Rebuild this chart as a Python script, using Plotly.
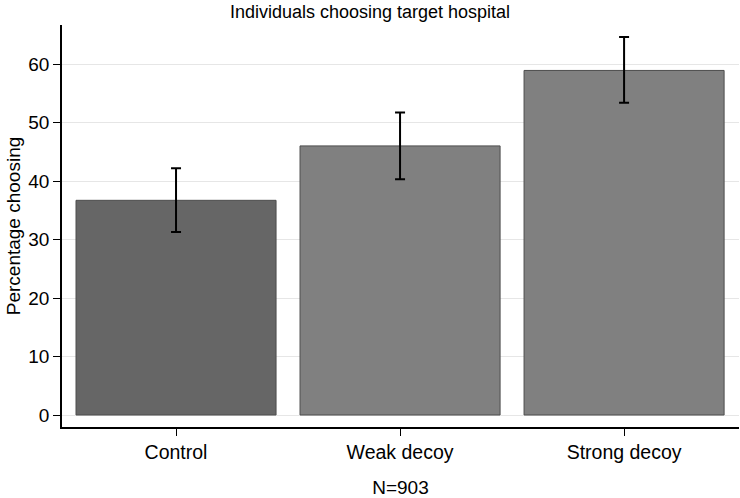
import plotly.graph_objects as go

categories = ["Control", "Weak decoy", "Strong decoy"]
pct_choosing = [36.7, 46.0, 58.9]
ci_upper = [42.2, 51.7, 64.6]
ci_lower = [31.3, 40.3, 53.4]
bar_colors = ["#666666", "#808080", "#808080"]
y_ticks = [0, 10, 20, 30, 40, 50, 60]

err_plus = [u - v for u, v in zip(ci_upper, pct_choosing)]
err_minus = [v - l for v, l in zip(pct_choosing, ci_lower)]

FONT = "Liberation Sans, Arial, sans-serif"

fig = go.Figure()
fig.add_trace(go.Bar(
    x=categories,
    y=pct_choosing,
    width=0.893,
    marker=dict(color=bar_colors, line=dict(color="#4d4d4d", width=1)),
    error_y=dict(type="data", array=err_plus, arrayminus=err_minus,
                 color="black", thickness=2, width=5, visible=True),
    showlegend=False,
))

fig.update_layout(
    width=740, height=498,
    margin=dict(l=62, r=1, t=25, b=71),
    paper_bgcolor="white", plot_bgcolor="white",
    font=dict(family=FONT, size=19, color="black"),
    title=dict(text="Individuals choosing target hospital", x=0.5, xanchor="center",
               y=0.99, yanchor="top", font=dict(size=18, color="black")),
)
fig.update_xaxes(
    range=[-0.509, 2.513], showline=True, linecolor="black", linewidth=1.5,
    ticks="outside", ticklen=7, tickcolor="black", tickwidth=1,
    tickfont=dict(size=19.5), automargin=False,
    title=dict(text="N=903", font=dict(size=19), standoff=21),
    showgrid=False, zeroline=False, fixedrange=True,
)
fig.update_yaxes(
    range=[-2.05, 66.67], tickvals=y_ticks, showline=True, linecolor="black", linewidth=1.5,
    ticks="outside", ticklen=7, tickcolor="black", tickwidth=1,
    tickfont=dict(size=19), automargin=False,
    title=dict(text="Percentage choosing", font=dict(size=19), standoff=3),
    showgrid=True, gridcolor="#e6e6e6", gridwidth=1.2, zeroline=False,
)

fig.write_html("out.html", config={"displayModeBar": False},
               post_script="document.body.style.margin='0';")
